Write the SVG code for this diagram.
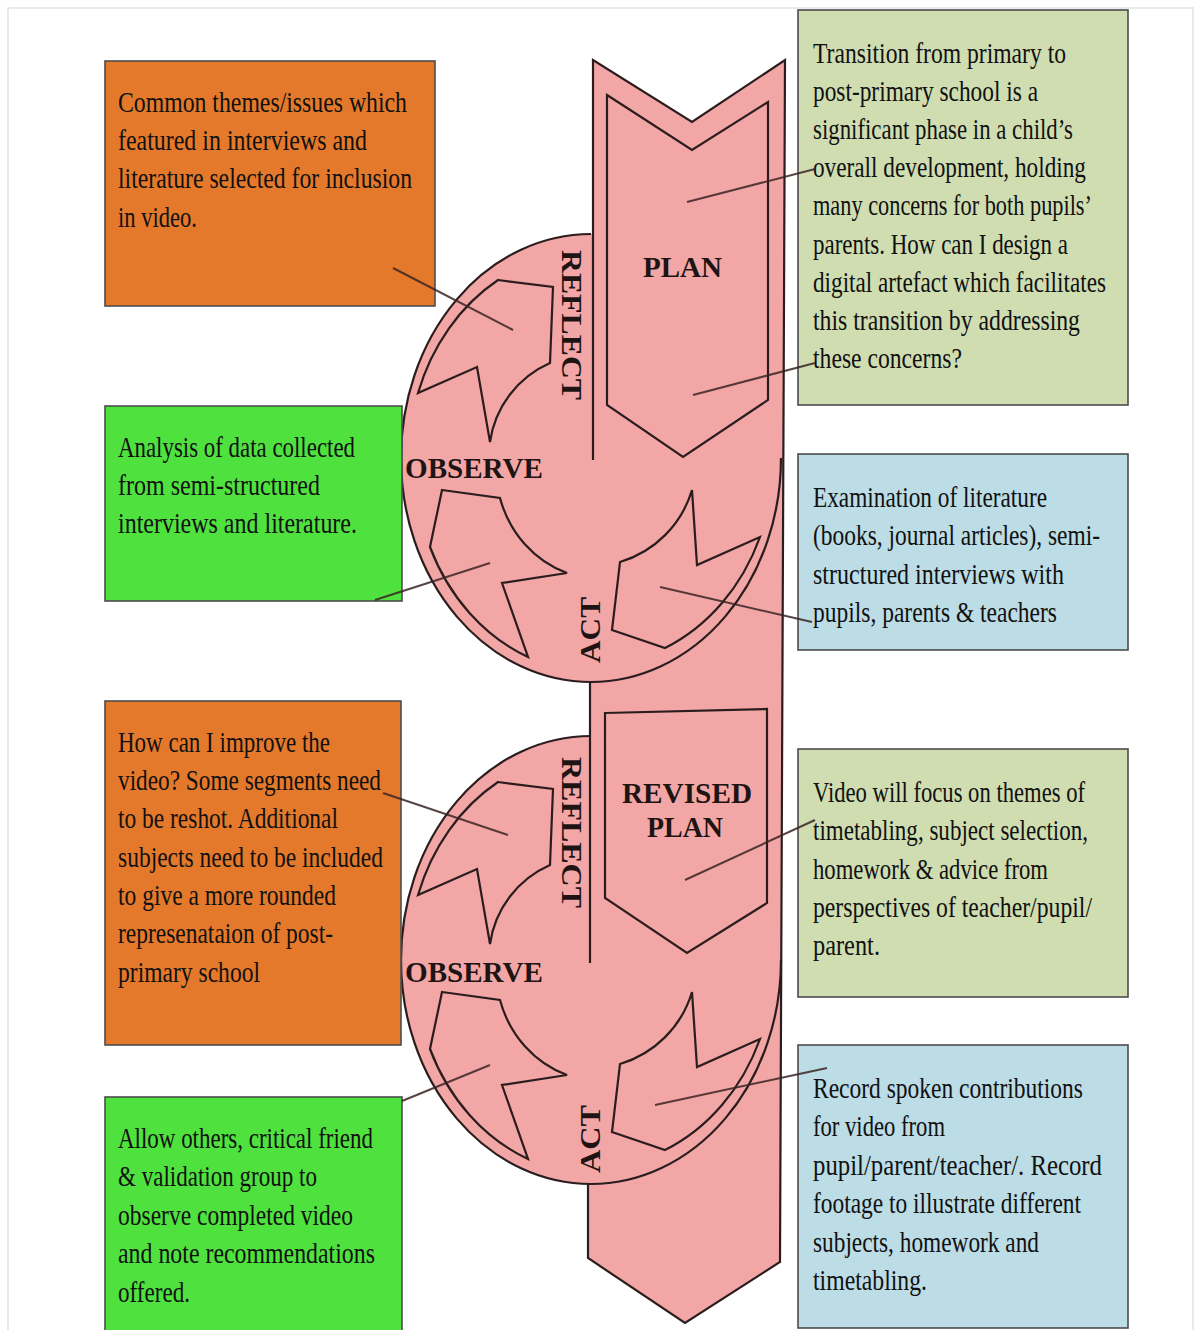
<svg xmlns="http://www.w3.org/2000/svg" xmlns:xlink="http://www.w3.org/1999/xlink" width="1195" height="1330" viewBox="0 0 1195 1330">
<defs>
<style>
.frame{fill:none;stroke:#e2e2e2;stroke-width:1.5}
.box{stroke:#4d4d4d;stroke-width:1.6}
.orange{fill:#e5792b}
.green{fill:#4fe23f}
.olive{fill:#cfddb1}
.blue{fill:#bcdce6}
.t{font-family:"Liberation Serif",serif;font-size:30px;fill:#111}
.pink{fill:#f3a6a6}
.ol{fill:none;stroke:#2b1d1d;stroke-width:2.2;stroke-linejoin:miter}
.lbl{font-family:"Liberation Serif",serif;font-weight:bold;font-size:30px;fill:#1f1414}
.conn{fill:none;stroke:#3a2424;stroke-width:2;stroke-opacity:0.85}
</style>
<g id="ring-arrows" class="ol">
<path d="M498,280 L553,287 L550,363 A102,102 0 0 0 490,442 L477,367 L418,393 A182,207 0 0 1 498,280 Z"/>
<path d="M442,490 L500,498 A105,112 0 0 0 567,573 L502,583 L528,657 A182,207 0 0 1 430,547 Z"/>
<path d="M692,490 L697,565 L760,537 A182,207 0 0 1 665,648 L612,630 L620,562 A107,107 0 0 0 692,490 Z"/>
</g>
</defs>
<rect x="8" y="8" width="1185" height="1330" class="frame"/>

<g id="band">
<polygon class="pink" points="593,60 692,122 785,60 780,1262 685,1323 588,1258"/>
<ellipse class="pink" cx="591" cy="458" rx="190" ry="224"/>
<ellipse class="pink" cx="591" cy="960" rx="190" ry="224"/>
<path class="ol" d="M593,460 L593,60 L692,122 L785,60 L780,1262 L685,1323 L588,1258 L588,1184 M590,682 L590,963"/>
<path class="ol" d="M591,234 A190,224 0 0 0 591,682 A190,224 0 0 0 781,458"/>
<path class="ol" d="M591,736 A190,224 0 0 0 591,1184 A190,224 0 0 0 781,960"/>
</g>

<g id="cycle1">
<path class="ol" d="M607,95 L692,150 L768,102 L768,400 L683,457 L607,405 Z"/>
<use xlink:href="#ring-arrows"/>
<text class="lbl" x="643" y="277" textLength="79" lengthAdjust="spacingAndGlyphs">PLAN</text>
<text class="lbl" transform="translate(562,250) rotate(90)" x="0" y="0" textLength="150" lengthAdjust="spacingAndGlyphs">REFLECT</text>
<text class="lbl" x="405" y="478" textLength="138" lengthAdjust="spacingAndGlyphs">OBSERVE</text>
<text class="lbl" transform="translate(600,663) rotate(-90)" x="0" y="0" textLength="66" lengthAdjust="spacingAndGlyphs">ACT</text>
</g>

<g id="cycle2">
<path class="ol" d="M605,713 L767,709 L767,903 L687,953 L605,898 Z"/>
<use xlink:href="#ring-arrows" transform="translate(0,502)"/>
<text class="lbl" x="622" y="803" textLength="130" lengthAdjust="spacingAndGlyphs">REVISED</text>
<text class="lbl" x="647" y="837" textLength="76" lengthAdjust="spacingAndGlyphs">PLAN</text>
<text class="lbl" transform="translate(562,757) rotate(90)" x="0" y="0" textLength="151" lengthAdjust="spacingAndGlyphs">REFLECT</text>
<text class="lbl" x="405" y="982" textLength="138" lengthAdjust="spacingAndGlyphs">OBSERVE</text>
<text class="lbl" transform="translate(600,1173) rotate(-90)" x="0" y="0" textLength="68" lengthAdjust="spacingAndGlyphs">ACT</text>
</g>

<g id="box-themes">
<rect class="box orange" x="105" y="61" width="330" height="245"/>
<text class="t" x="118" y="112" textLength="289" lengthAdjust="spacingAndGlyphs">Common themes/issues which</text>
<text class="t" x="118" y="150" textLength="249" lengthAdjust="spacingAndGlyphs">featured in interviews and</text>
<text class="t" x="118" y="188" textLength="294" lengthAdjust="spacingAndGlyphs">literature selected for inclusion</text>
<text class="t" x="118" y="227" textLength="79" lengthAdjust="spacingAndGlyphs">in video.</text>
</g>

<g id="box-analysis">
<rect class="box green" x="105" y="406" width="297" height="195"/>
<text class="t" x="118" y="457" textLength="237" lengthAdjust="spacingAndGlyphs">Analysis of data collected</text>
<text class="t" x="118" y="495" textLength="202" lengthAdjust="spacingAndGlyphs">from semi-structured</text>
<text class="t" x="118" y="533" textLength="239" lengthAdjust="spacingAndGlyphs">interviews and literature.</text>
</g>

<g id="box-improve">
<rect class="box orange" x="105" y="701" width="296" height="344"/>
<text class="t" x="118" y="752" textLength="212" lengthAdjust="spacingAndGlyphs">How can I improve the</text>
<text class="t" x="118" y="790" textLength="263" lengthAdjust="spacingAndGlyphs">video? Some segments need</text>
<text class="t" x="118" y="828" textLength="220" lengthAdjust="spacingAndGlyphs">to be reshot. Additional</text>
<text class="t" x="118" y="867" textLength="265" lengthAdjust="spacingAndGlyphs">subjects need to be included</text>
<text class="t" x="118" y="905" textLength="218" lengthAdjust="spacingAndGlyphs">to give a more rounded</text>
<text class="t" x="118" y="943" textLength="215" lengthAdjust="spacingAndGlyphs">represenataion of post-</text>
<text class="t" x="118" y="982" textLength="142" lengthAdjust="spacingAndGlyphs">primary school</text>
</g>

<g id="box-allow">
<rect class="box green" x="105" y="1097" width="297" height="245"/>
<text class="t" x="118" y="1148" textLength="255" lengthAdjust="spacingAndGlyphs">Allow others, critical friend</text>
<text class="t" x="118" y="1186" textLength="199" lengthAdjust="spacingAndGlyphs">&amp; validation group to</text>
<text class="t" x="118" y="1225" textLength="235" lengthAdjust="spacingAndGlyphs">observe completed video</text>
<text class="t" x="118" y="1263" textLength="257" lengthAdjust="spacingAndGlyphs">and note recommendations</text>
<text class="t" x="118" y="1302" textLength="72" lengthAdjust="spacingAndGlyphs">offered.</text>
</g>

<g id="box-transition">
<rect class="box olive" x="798" y="10" width="330" height="395"/>
<text class="t" x="813" y="63" textLength="253" lengthAdjust="spacingAndGlyphs">Transition from primary to</text>
<text class="t" x="813" y="101" textLength="225" lengthAdjust="spacingAndGlyphs">post-primary school is a</text>
<text class="t" x="813" y="139" textLength="260" lengthAdjust="spacingAndGlyphs">significant phase in a child’s</text>
<text class="t" x="813" y="177" textLength="273" lengthAdjust="spacingAndGlyphs">overall development, holding</text>
<text class="t" x="813" y="215" textLength="279" lengthAdjust="spacingAndGlyphs">many concerns for both pupils’</text>
<text class="t" x="813" y="254" textLength="255" lengthAdjust="spacingAndGlyphs">parents. How can I design a</text>
<text class="t" x="813" y="292" textLength="293" lengthAdjust="spacingAndGlyphs">digital artefact which facilitates</text>
<text class="t" x="813" y="330" textLength="267" lengthAdjust="spacingAndGlyphs">this transition by addressing</text>
<text class="t" x="813" y="368" textLength="149" lengthAdjust="spacingAndGlyphs">these concerns?</text>
</g>

<g id="box-examination">
<rect class="box blue" x="798" y="454" width="330" height="196"/>
<text class="t" x="813" y="507" textLength="234" lengthAdjust="spacingAndGlyphs">Examination of literature</text>
<text class="t" x="813" y="545" textLength="287" lengthAdjust="spacingAndGlyphs">(books, journal articles), semi-</text>
<text class="t" x="813" y="584" textLength="251" lengthAdjust="spacingAndGlyphs">structured interviews with</text>
<text class="t" x="813" y="622" textLength="244" lengthAdjust="spacingAndGlyphs">pupils, parents &amp; teachers</text>
</g>

<g id="box-focus">
<rect class="box olive" x="798" y="749" width="330" height="248"/>
<text class="t" x="813" y="802" textLength="272" lengthAdjust="spacingAndGlyphs">Video will focus on themes of</text>
<text class="t" x="813" y="840" textLength="275" lengthAdjust="spacingAndGlyphs">timetabling, subject selection,</text>
<text class="t" x="813" y="879" textLength="235" lengthAdjust="spacingAndGlyphs">homework &amp; advice from</text>
<text class="t" x="813" y="917" textLength="279" lengthAdjust="spacingAndGlyphs">perspectives of teacher/pupil/</text>
<text class="t" x="813" y="955" textLength="67" lengthAdjust="spacingAndGlyphs">parent.</text>
</g>

<g id="box-record">
<rect class="box blue" x="798" y="1045" width="330" height="283"/>
<text class="t" x="813" y="1098" textLength="270" lengthAdjust="spacingAndGlyphs">Record spoken contributions</text>
<text class="t" x="813" y="1136" textLength="132" lengthAdjust="spacingAndGlyphs">for video from</text>
<text class="t" x="813" y="1175" textLength="289" lengthAdjust="spacingAndGlyphs">pupil/parent/teacher/. Record</text>
<text class="t" x="813" y="1213" textLength="268" lengthAdjust="spacingAndGlyphs">footage to illustrate different</text>
<text class="t" x="813" y="1252" textLength="226" lengthAdjust="spacingAndGlyphs">subjects, homework and</text>
<text class="t" x="813" y="1290" textLength="114" lengthAdjust="spacingAndGlyphs">timetabling.</text>
</g>

<g id="connectors" class="conn">
<line x1="393" y1="268" x2="513" y2="330"/>
<line x1="815" y1="169" x2="687" y2="202"/>
<line x1="815" y1="363" x2="693" y2="395"/>
<line x1="375" y1="600" x2="490" y2="563"/>
<line x1="812" y1="622" x2="660" y2="587"/>
<line x1="383" y1="793" x2="508" y2="835"/>
<line x1="815" y1="820" x2="685" y2="880"/>
<line x1="402" y1="1101" x2="490" y2="1065"/>
<line x1="827" y1="1068" x2="655" y2="1105"/>
</g>
</svg>
